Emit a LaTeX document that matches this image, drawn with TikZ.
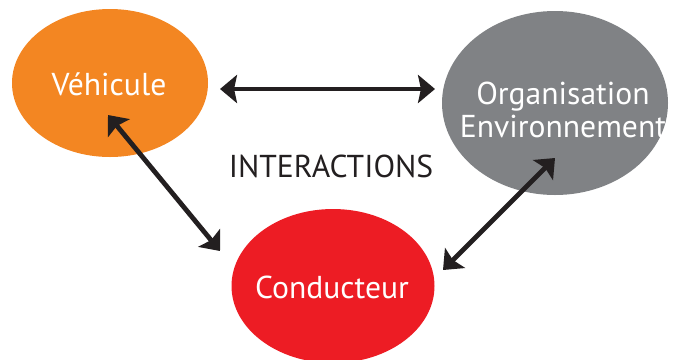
\documentclass[tikz,border=0pt]{standalone}
\usepackage{fontspec}
\setmainfont{PT Sans}
\usetikzlibrary{shapes.geometric,arrows.meta}
\definecolor{vorange}{RGB}{243,134,34}
\definecolor{ogrey}{RGB}{128,130,133}
\definecolor{cred}{RGB}{237,28,36}
\definecolor{ink}{RGB}{35,31,32}
\begin{document}
\begin{tikzpicture}[x=0.03cm,y=-0.03cm,
	blob/.style={ellipse,inner sep=0pt},
	word/.style={text=white,font=\fontsize{27}{28}\selectfont,align=center},
	link/.style={{Stealth[length=14.5pt,width=24pt,inset=2.5pt]}-{Stealth[length=14.5pt,width=24pt,inset=2.5pt]},line width=4.1pt,ink}]
	\useasboundingbox (0,0) rectangle (680,359);
	\node[blob,fill=vorange,minimum width=196*0.03cm,minimum height=148*0.03cm] (veh) at (110,83) {};
	\node[word] (vehtxt) at (109,84) {Véhicule};
	\node[blob,fill=ogrey,minimum width=226*0.03cm,minimum height=184*0.03cm] (org) at (555,103) {};
	\node[word] (orgtxt) at (563,110) {Organisation\\Environnement};
	\node[blob,fill=cred,minimum width=203*0.03cm,minimum height=154*0.03cm] (cond) at (333,286) {};
	\node[word] (condtxt) at (332,287) {Conducteur};
	\node[word,text=ink] (inter) at (331,166) {INTERACTIONS};
	\path
	(220,89) coordinate (vo1)
	(435,89) coordinate (vo2)
	(108,115) coordinate (vc1)
	(220,251) coordinate (vc2)
	(555,158) coordinate (oc1)
	(443,270) coordinate (oc2)
	;
	\draw[link] (vo1)--(vo2);
	\draw[link] (vc1)--(vc2);
	\draw[link] (oc1)--(oc2);
\end{tikzpicture}
\end{document}
